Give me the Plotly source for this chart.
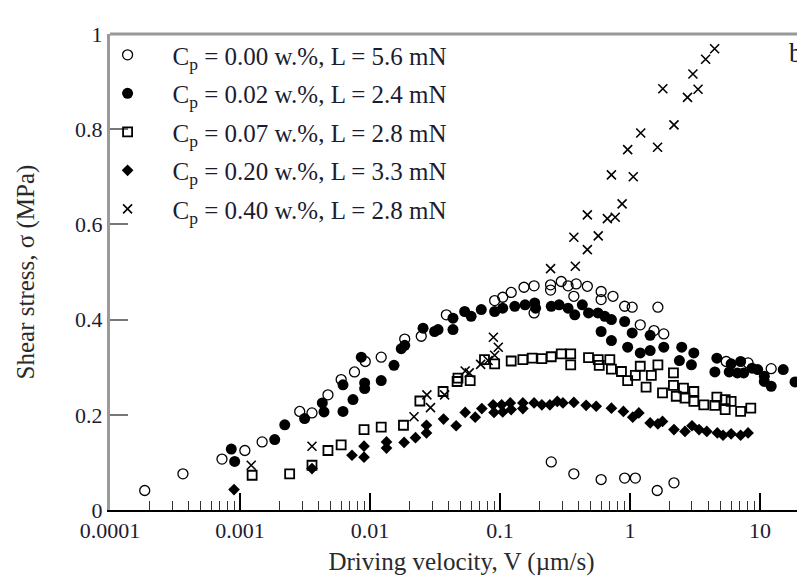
import plotly.graph_objects as go

# ---------------- data ----------------
# Cp = 0.00 w.%, L = 5.6 mN  (open circles)
v_c000 = [1.85e-4, 3.64e-4, 7.27e-4, 1.09e-3, 1.48e-3, 2.88e-3, 3.58e-3, 4.75e-3, 6.0e-3, 7.6e-3,
          9.2e-3, 0.0122, 0.0185, 0.0248, 0.0387, 0.091, 0.105, 0.122, 0.153, 0.183,
          0.183, 0.245, 0.245, 0.296, 0.334, 0.386, 0.37, 0.47, 0.6, 0.6,
          0.74, 0.91, 1.04, 1.64, 1.2, 1.53, 1.82, 5.5, 8.1, 12.2,
          0.248, 0.37, 0.6, 0.91, 1.1, 1.62, 2.18]
s_c000 = [0.041, 0.076, 0.107, 0.125, 0.143, 0.207, 0.204, 0.242, 0.274, 0.290,
          0.312, 0.321, 0.359, 0.365, 0.410, 0.440, 0.447, 0.457, 0.468, 0.471,
          0.414, 0.473, 0.462, 0.480, 0.471, 0.475, 0.449, 0.470, 0.459, 0.442,
          0.449, 0.428, 0.426, 0.426, 0.389, 0.377, 0.370, 0.312, 0.309, 0.297,
          0.101, 0.076, 0.064, 0.067, 0.067, 0.041, 0.057]

# Cp = 0.02 w.%, L = 2.4 mN  (filled circles)
v_c002 = [8.57e-4, 9.1e-4, 1.85e-3, 2.21e-3, 3.14e-3, 4.43e-3, 4.3e-3, 6.2e-3, 6.2e-3, 7.4e-3,
          8.57e-3, 9.1e-3, 9.1e-3, 0.0122, 0.0153, 0.0174, 0.0185, 0.0256, 0.0314, 0.0334,
          0.0435, 0.0435, 0.0535, 0.060, 0.0718, 0.091, 0.105, 0.130, 0.156, 0.185,
          0.188, 0.248, 0.285, 0.334, 0.376, 0.43, 0.48, 0.567, 0.64, 0.72,
          0.60, 0.72, 0.91, 0.96, 1.04, 1.2, 1.43, 1.43, 1.82, 2.5,
          3.1, 2.4, 2.97, 4.66, 4.5, 5.8, 6.0, 6.7, 7.1, 7.5,
          8.7, 9.6, 10.8, 10.8, 12.2, 15.1, 18.6]
s_c002 = [0.128, 0.102, 0.148, 0.179, 0.192, 0.206, 0.225, 0.207, 0.263, 0.232,
          0.321, 0.267, 0.255, 0.272, 0.304, 0.339, 0.346, 0.382, 0.375, 0.379,
          0.403, 0.379, 0.417, 0.407, 0.421, 0.417, 0.424, 0.428, 0.431, 0.435,
          0.424, 0.428, 0.431, 0.424, 0.410, 0.431, 0.414, 0.414, 0.407, 0.400,
          0.375, 0.356, 0.396, 0.342, 0.372, 0.330, 0.335, 0.367, 0.342, 0.342,
          0.330, 0.314, 0.305, 0.319, 0.290, 0.290, 0.307, 0.288, 0.312, 0.288,
          0.298, 0.295, 0.281, 0.270, 0.260, 0.295, 0.269]

# Cp = 0.07 w.%, L = 2.8 mN  (open squares)
v_c007 = [1.24e-3, 2.41e-3, 3.58e-3, 4.75e-3, 6.0e-3, 9.0e-3, 0.0122, 0.0181, 0.0242, 0.0365,
          0.0468, 0.0475, 0.059, 0.076, 0.091, 0.122, 0.15, 0.177, 0.21, 0.248,
          0.296, 0.35, 0.35, 0.48, 0.57, 0.58, 0.70, 0.72, 0.86, 0.96,
          1.1, 1.2, 1.33, 1.46, 1.64, 2.16, 1.78, 2.16, 2.27, 2.58,
          2.65, 3.1, 3.1, 3.7, 4.5, 4.66, 5.4, 5.4, 6.0, 7.1, 8.5]
s_c007 = [0.073, 0.076, 0.094, 0.125, 0.137, 0.169, 0.174, 0.178, 0.229, 0.249,
          0.270, 0.277, 0.272, 0.316, 0.307, 0.313, 0.316, 0.319, 0.318, 0.322,
          0.328, 0.328, 0.305, 0.320, 0.316, 0.304, 0.316, 0.296, 0.291, 0.272,
          0.283, 0.302, 0.258, 0.283, 0.305, 0.288, 0.246, 0.262, 0.239, 0.256,
          0.235, 0.249, 0.228, 0.221, 0.220, 0.237, 0.232, 0.211, 0.228, 0.207, 0.214]

# Cp = 0.20 w.%, L = 3.3 mN  (filled diamonds)
v_c020 = [9.0e-4, 3.58e-3, 7.27e-3, 9.0e-3, 9.0e-3, 0.0134, 0.0134, 0.0183, 0.0224, 0.0272,
          0.0272, 0.0368, 0.046, 0.054, 0.0645, 0.0725, 0.0886, 0.09, 0.103, 0.105,
          0.12, 0.122, 0.15, 0.15, 0.183, 0.21, 0.242, 0.276, 0.305, 0.37,
          0.46, 0.55, 0.72, 0.89, 1.05, 1.17, 1.43, 1.64, 1.78, 2.18,
          2.65, 3.0, 3.4, 3.9, 4.7, 5.2, 6.0, 7.1, 8.1]
s_c020 = [0.043, 0.087, 0.115, 0.134, 0.111, 0.143, 0.130, 0.142, 0.152, 0.162,
          0.178, 0.191, 0.177, 0.205, 0.195, 0.213, 0.221, 0.205, 0.221, 0.206,
          0.225, 0.211, 0.225, 0.213, 0.225, 0.221, 0.221, 0.228, 0.225, 0.226,
          0.220, 0.218, 0.214, 0.207, 0.195, 0.204, 0.183, 0.181, 0.186, 0.169,
          0.165, 0.177, 0.169, 0.165, 0.162, 0.157, 0.160, 0.157, 0.162]

# Cp = 0.40 w.%, L = 2.8 mN  (crosses)
v_c040 = [1.22e-3, 3.58e-3, 0.0218, 0.0274, 0.0292, 0.0375, 0.054, 0.058, 0.071, 0.081,
          0.089, 0.091, 0.097, 0.245, 0.38, 0.37, 0.47, 0.47, 0.57, 0.67,
          0.77, 0.72, 0.87, 0.96, 1.06, 1.21, 1.63, 1.79, 2.18, 2.77,
          3.05, 3.34, 3.82, 4.48]
s_c040 = [0.094, 0.134, 0.196, 0.242, 0.215, 0.242, 0.292, 0.288, 0.306, 0.314,
          0.363, 0.325, 0.342, 0.507, 0.512, 0.573, 0.547, 0.620, 0.576, 0.612,
          0.615, 0.704, 0.643, 0.757, 0.700, 0.792, 0.762, 0.885, 0.809, 0.867,
          0.916, 0.884, 0.947, 0.969]

series_names = [
    "C<sub>p</sub> = 0.00 w.%, L = 5.6 mN",
    "C<sub>p</sub> = 0.02 w.%, L = 2.4 mN",
    "C<sub>p</sub> = 0.07 w.%, L = 2.8 mN",
    "C<sub>p</sub> = 0.20 w.%, L = 3.3 mN",
    "C<sub>p</sub> = 0.40 w.%, L = 2.8 mN",
]

x_tick_vals = [1e-4, 1e-3, 1e-2, 1e-1, 1, 10]
x_tick_text = ["0.0001", "0.001", "0.01", "0.1", "1", "10"]
y_tick_vals = [0, 0.2, 0.4, 0.6, 0.8, 1.0]
y_tick_text = ["0", "0.2", "0.4", "0.6", "0.8", "1"]

# ---------------- figure ----------------
FONT = "Liberation Serif, Times New Roman, serif"
styles = [
    dict(symbol="circle-open", size=10, line=dict(width=1.3, color="black"), color="black"),
    dict(symbol="circle", size=11, color="black", line=dict(width=0)),
    dict(symbol="square-open", size=9, line=dict(width=1.8, color="black"), color="black"),
    dict(symbol="diamond", size=9, color="black", line=dict(width=0)),
    dict(symbol="x-thin-open", size=9, line=dict(width=1.6, color="black"), color="black"),
]
xs = [v_c000, v_c002, v_c007, v_c020, v_c040]
ys = [s_c000, s_c002, s_c007, s_c020, s_c040]

fig = go.Figure()
for i in range(5):
    fig.add_trace(go.Scatter(
        x=xs[i], y=ys[i], mode="markers", name=series_names[i],
        legendgroup=f"g{i}", marker=styles[i], cliponaxis=False,
    ))

minor_vals = []
for dec in [1e-4, 1e-3, 1e-2, 1e-1, 1, 10]:
    for m in range(2, 10):
        minor_vals.append(m * dec)

fig.update_layout(
    width=805, height=579,
    margin=dict(l=102, r=0, t=26, b=77),
    paper_bgcolor="white", plot_bgcolor="white",
    font=dict(family=FONT, size=22, color="#1c1c30"),
    showlegend=True,
    legend=dict(
        x=-0.039, y=1.004, xanchor="left", yanchor="top",
        bgcolor="rgba(0,0,0,0)", borderwidth=0,
        font=dict(family=FONT, size=25, color="#1c1c30"),
        itemwidth=80, tracegroupgap=3,
    ),
    xaxis=dict(
        type="log", range=[-4, 1.408],
        showline=True, linecolor="black", linewidth=2,
        ticks="inside", ticklen=17, tickwidth=1.5, tickcolor="black",
        tickvals=x_tick_vals, ticktext=x_tick_text,
        minor=dict(tickvals=minor_vals, ticks="inside", ticklen=9, tickwidth=1.2, tickcolor="#333"),
        showgrid=False, zeroline=False,
        tickfont=dict(size=22),
        title=dict(text="Driving velocity, V (µm/s)", font=dict(size=25, color="#2a2a2a"), standoff=10),
    ),
    yaxis=dict(
        range=[0, 1],
        showline=True, linecolor="#9a9a9a", linewidth=3,
        ticks="inside", ticklen=18, tickwidth=2, tickcolor="#777",
        tickvals=y_tick_vals, ticktext=y_tick_text,
        showgrid=False, zeroline=False,
        tickfont=dict(size=22),
        title=dict(text="Shear stress, σ (MPa)", font=dict(size=25, color="#2a2a2a"), standoff=34),
    ),
    shapes=[dict(type="line", xref="paper", yref="paper", x0=0, x1=1, y0=1, y1=1,
                 line=dict(color="#999", width=3))],
    annotations=[dict(text="b", xref="paper", yref="paper", x=0.988, y=0.995,
                      xanchor="right", yanchor="top", showarrow=False,
                      font=dict(size=27, color="#1c1c30"))],
)

fig.write_html("out.html")
